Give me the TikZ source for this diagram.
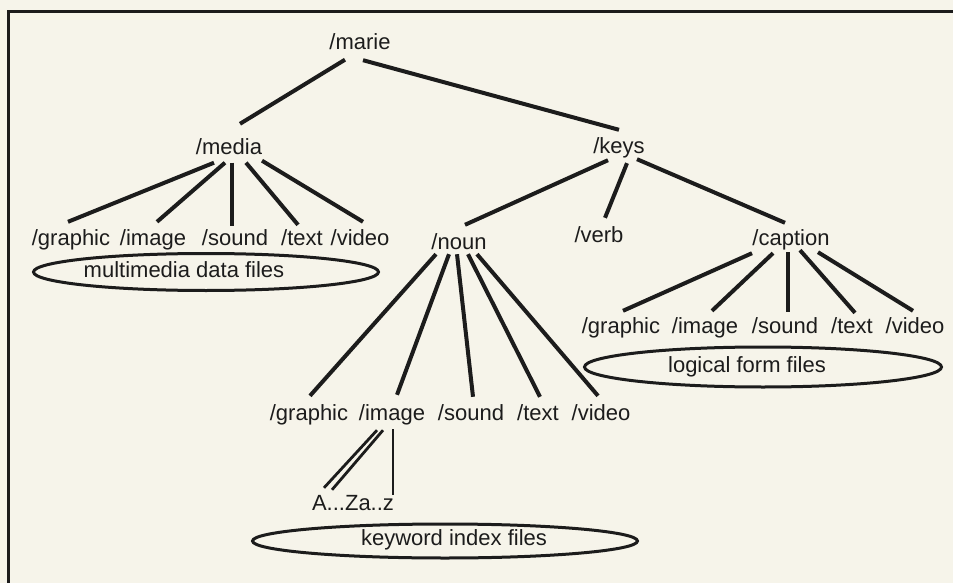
\documentclass[tikz,border=0pt]{standalone}
\usepackage{fontspec}
\setmainfont{Liberation Sans}
\usetikzlibrary{calc,shapes.geometric}
\definecolor{paper}{HTML}{F6F4EA}
\definecolor{ink}{HTML}{1C1C1C}
\begin{document}
\begin{tikzpicture}[x=1pt,y=-1pt,
  lbl/.style={font=\fontsize{22}{26}\selectfont, text=ink, inner sep=3pt,
              text height=16pt, text depth=5pt},
  branch/.style={draw=ink, line width=4pt},
  thin/.style={draw=ink, line width=2.8pt},
  group/.style={draw=ink, line width=3pt, ellipse, inner sep=0pt}]

% page and frame
\fill[paper] (0,0) rectangle (953,583);
\useasboundingbox (0,0) rectangle (953,583);
\draw[ink, line width=3pt] (8,583) -- (8,12) -- (953,12);

% directory tree
\node[lbl] (marie) at (360,44) {/marie};
\node[lbl] (media) at (229,149) {/media};
\node[lbl] (keys)  at (619,148) {/keys};

% media files
\node[lbl] (mg) at (71,240)  {/graphic};
\node[lbl] (mi) at (153,240) {/image};
\node[lbl] (ms) at (235,240) {/sound};
\node[lbl] (mt) at (302,240) {/text};
\node[lbl] (mv) at (360,240) {/video};

% keys subdirectories
\node[lbl] (noun)    at (459,243.5) {/noun};
\node[lbl] (verb)    at (599,236.5) {/verb};
\node[lbl] (caption) at (791,239.5) {/caption};

% noun subdirectories
\node[lbl] (ng) at (309,414.5) {/graphic};
\node[lbl] (ni) at (392,414.5) {/image};
\node[lbl] (ns) at (471,414.5) {/sound};
\node[lbl] (nt) at (538,414.5) {/text};
\node[lbl] (nv) at (601,414.5) {/video};

% caption subdirectories
\node[lbl] (cg) at (621,327.5) {/graphic};
\node[lbl] (ci) at (705,327.5) {/image};
\node[lbl] (cs) at (785,327.5) {/sound};
\node[lbl] (ct) at (852,327.5) {/text};
\node[lbl] (cv) at (915,327.5) {/video};

% keyword index entries
\node[lbl] (az) at (353,504.5) {A...Za..z};

% file groups
\node[group, minimum width=345pt, minimum height=37pt] (mmE) at (206,272) {};
\node[lbl] (mmT) at (184,272) {multimedia data files};
\node[group, minimum width=357pt, minimum height=40pt] (lfE) at (763,367) {};
\node[lbl] (lfT) at (747,367) {logical form files};
\node[group, minimum width=385pt, minimum height=34pt] (kwE) at (445,541) {};
\node[lbl] (kwT) at (454,540) {keyword index files};

% root branches
\draw[branch] ($(marie.south)+(-15,2)$) -- ($(media.north)+(11,-11.5)$);
\draw[branch] ($(marie.south)+(3,2.5)$) -- ($(keys.north)+(0,-4.5)$);

% media branches
\draw[branch] ($(media.south)+(-15,0)$) -- ($(mg.north)+(-3,-4.5)$);
\draw[branch] ($(media.south)+(-4,0)$)  -- ($(mi.north)+(4,-4.5)$);
\draw[branch] ($(media.south)+(3,0)$)   -- ($(ms.north)+(-3,0)$);
\draw[branch] ($(media.south)+(17,0)$)  -- ($(mt.north)+(-4,-1.5)$);
\draw[branch] ($(media.south)+(33,-2)$) -- ($(mv.north)+(3,-4.5)$);

% keys branches
\draw[branch] ($(keys.south)+(-11,-1.5)$) -- ($(noun.north)+(6,-5)$);
\draw[branch] ($(keys.south)+(8,1.5)$)    -- ($(verb.north)+(6,-5)$);
\draw[branch] ($(keys.south)+(18,-2.5)$)  -- ($(caption.north)+(-6,-3)$);

% noun branches
\draw[branch] ($(noun.south)+(-23,-3)$) -- ($(ng.north)+(1,-5)$);
\draw[branch] ($(noun.south)+(-10,-3)$) -- ($(ni.north)+(5,-6)$);
\draw[branch] ($(noun.south)+(-2,-3)$)  -- ($(ns.north)+(2,-4)$);
\draw[branch] ($(noun.south)+(9,-3)$)   -- ($(nt.north)+(2,-4)$);
\draw[branch] ($(noun.south)+(18,-3)$)  -- ($(nv.north)+(-3,-5)$);

% caption branches
\draw[branch] ($(caption.south)+(-39,0)$) -- ($(cg.north)+(2,-3)$);
\draw[branch] ($(caption.south)+(-18,0)$) -- ($(ci.north)+(7,-3)$);
\draw[branch] ($(caption.south)+(-3,-1)$) -- ($(cs.north)+(3,-2)$);
\draw[branch] ($(caption.south)+(9,-3)$)  -- ($(ct.north)+(3,-1)$);
\draw[branch] ($(caption.south)+(27,-1)$) -- ($(cv.north)+(-2,-3)$);

% image index links
\draw[thin] ($(ni.south)+(-15,2)$) -- ($(az.north)+(-29,-3)$);
\draw[thin] ($(ni.south)+(-9,2)$) -- ($(az.north)+(-21,-1)$);
\draw[ink, line width=2pt] ($(ni.south)+(1,1)$) -- ($(az.north)+(40,4)$);
\end{tikzpicture}
\end{document}
